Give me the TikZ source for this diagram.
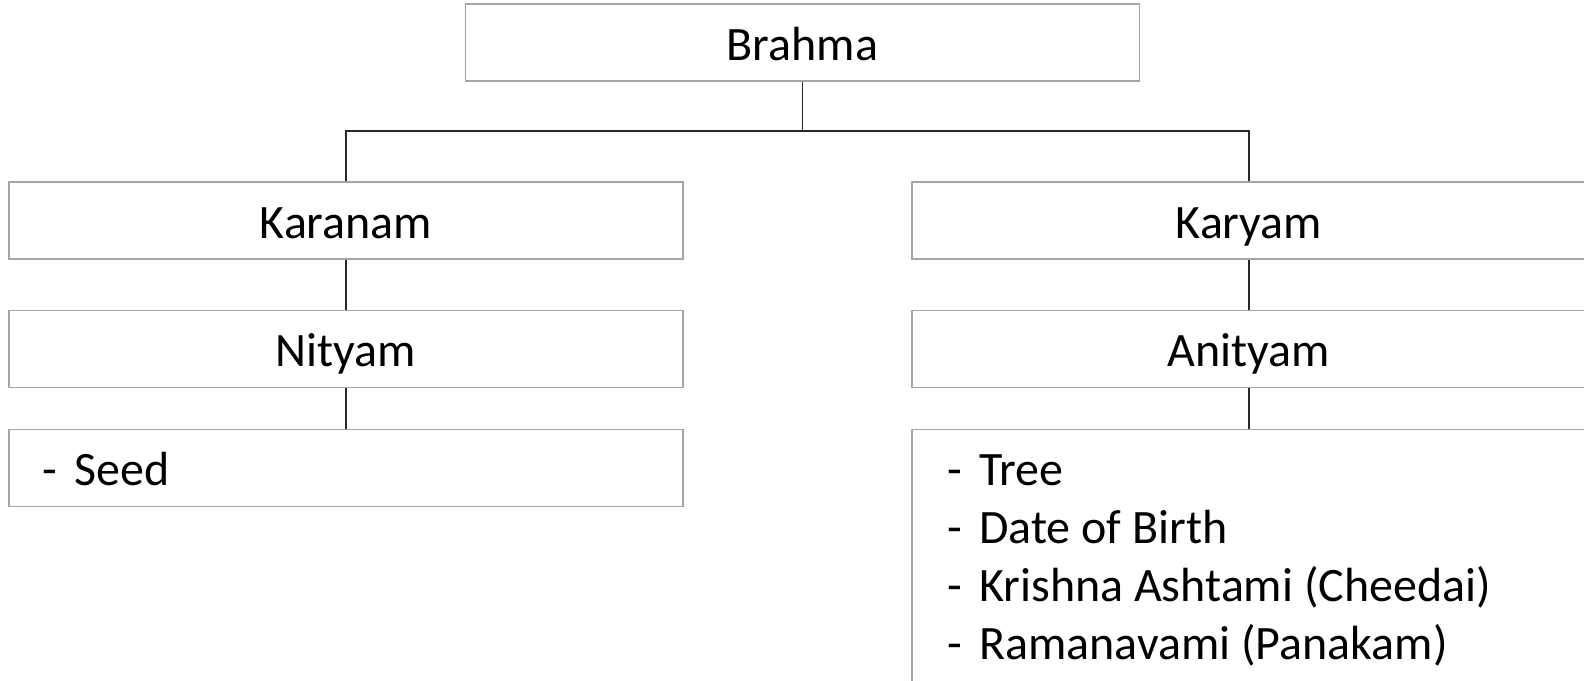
\documentclass[tikz,border=0pt]{standalone}
\usepackage{fontspec}
\setmainfont{Carlito}
\usetikzlibrary{positioning}
\definecolor{boxgray}{RGB}{165, 165, 165}
\definecolor{linkgray}{RGB}{40, 40, 40}
\tikzset{
  chartbox/.style={rectangle, draw=boxgray, line width=0.6pt, minimum width=13.48cm, minimum height=1.54cm, inner sep=0pt, text height=0.9cm, text depth=0.2cm, font=\fontsize{27.3}{33}\selectfont},
  listbox/.style={chartbox, text width=12.12cm, inner xsep=0.68cm, align=left},
  itemtext/.style={inner sep=0pt, align=left, font=\fontsize{27.3}{33}\selectfont},
  link/.style={draw=linkgray, line width=0.6pt}
}
\newcommand{\itemdash}{\makebox[0.64cm][l]{-}}
\begin{document}
\begin{tikzpicture}
    \useasboundingbox (0, 0) rectangle (31.68, -13.62);
    \clip (0, 0) rectangle (31.68, -13.62);

    % Top node
    \node[chartbox] (brahma) at (16.05, -0.85) {Brahma};

    % Left branch
    \node[chartbox] (karanam) at (6.92, -4.41) {Karanam};
    \node[chartbox, below=1cm of karanam] (nityam) {Nityam};
    \node[listbox, below=0.82cm of nityam] (seed) {\itemdash Seed};

    % Right branch
    \node[chartbox] (karyam) at (24.98, -4.41) {Karyam};
    \node[chartbox, below=1cm of karyam] (anityam) {Anityam};
    \node[chartbox, below=0.82cm of anityam, anchor=north, minimum height=8cm] (examples) {};
    \node[itemtext, anchor=north west] (exlist) at (18.94, -9.08)
      {\itemdash Tree\\ \itemdash Date of Birth\\ \itemdash Krishna Ashtami (Cheedai)\\ \itemdash Ramanavami (Panakam)};

    % Connectors
    \coordinate (split) at (16.05, -2.62);
    \draw[link] (brahma.south) -- (split);
    \draw[link] (split) -| (karanam.north);
    \draw[link] (split) -| (karyam.north);
    \draw[link] (karanam) -- (nityam);
    \draw[link] (nityam) -- (seed);
    \draw[link] (karyam) -- (anityam);
    \draw[link] (anityam) -- (examples);
\end{tikzpicture}
\end{document}
